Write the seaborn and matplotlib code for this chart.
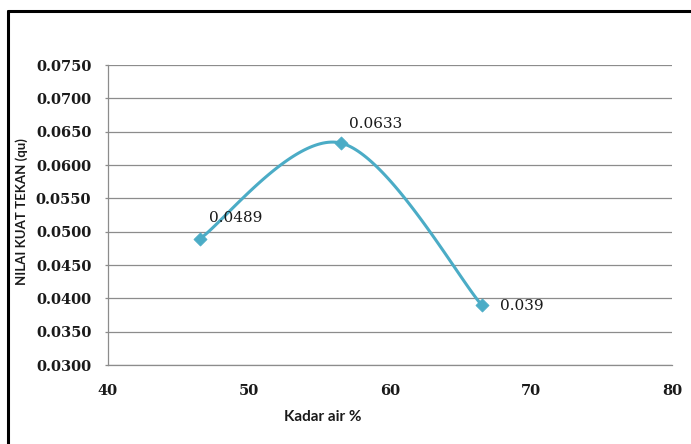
import numpy as np
import pandas as pd
import matplotlib
matplotlib.use("Agg")
import matplotlib.pyplot as plt
from matplotlib.lines import Line2D
import seaborn as sns

# Data
kadar_air = [46.5, 56.5, 66.5]
kuat_tekan = [0.0489, 0.0633, 0.039]
value_labels = ["0.0489", "0.0633", "0.039"]
y_ticks = [0.0300, 0.0350, 0.0400, 0.0450, 0.0500, 0.0550, 0.0600, 0.0650, 0.0700, 0.0750]
x_ticks = [40, 50, 60, 70, 80]

LINE_COLOR = "#4BACC6"
GRID_COLOR = "#8C8C8C"


def smooth_curve(xs, ys, n=60):
    """Cubic Bezier smoothing through the points (Catmull-Rom style tangents)."""
    pts = np.column_stack([xs, ys]).astype(float)
    out = []
    for i in range(len(pts) - 1):
        p_prev = pts[i - 1] if i > 0 else pts[i]
        p0, p1 = pts[i], pts[i + 1]
        p_next = pts[i + 2] if i + 2 < len(pts) else pts[i + 1]
        c1 = p0 + (p1 - p_prev) / 6.0
        c2 = p1 - (p_next - p0) / 6.0
        t = np.linspace(0, 1, n)[:, None]
        seg = ((1 - t) ** 3) * p0 + 3 * ((1 - t) ** 2) * t * c1 + 3 * (1 - t) * t ** 2 * c2 + t ** 3 * p1
        out.append(seg if i == 0 else seg[1:])
    return np.vstack(out)


sns.set_theme(style="white")
plt.rcParams["font.family"] = ["DejaVu Serif"]

fig = plt.figure(figsize=(6.91, 4.44), dpi=100)
fig.patch.set_facecolor("white")
ax = fig.add_axes([108 / 691, 1 - 365 / 444, (672 - 108) / 691, (365 - 65) / 444])

curve = smooth_curve(kadar_air, kuat_tekan)
curve_df = pd.DataFrame({"x": curve[:, 0], "y": curve[:, 1]})
pts_df = pd.DataFrame({"x": kadar_air, "y": kuat_tekan})

sns.lineplot(data=curve_df, x="x", y="y", ax=ax, color=LINE_COLOR, linewidth=2.2,
             sort=False, estimator=None, zorder=3)
sns.scatterplot(data=pts_df, x="x", y="y", ax=ax, marker="D", s=45, color=LINE_COLOR,
                edgecolor=LINE_COLOR, linewidth=0.5, zorder=4)

offsets = [(7, 15), (6, 14), (13, -1)]
for xv, yv, lab, (dx, dy) in zip(kadar_air, kuat_tekan, value_labels, offsets):
    ax.annotate(lab, (xv, yv), xytext=(dx, dy), textcoords="offset points",
                fontsize=11, family="DejaVu Serif", color="#1a1a1a",
                ha="left", va="center")

ax.set_xlim(40, 80)
ax.set_ylim(0.0300, 0.0750)
ax.set_xticks(x_ticks)
ax.set_yticks(y_ticks)
ax.set_xticklabels([str(v) for v in x_ticks])
ax.set_yticklabels([f"{v:.4f}" for v in y_ticks])
for lbl in ax.get_xticklabels() + ax.get_yticklabels():
    lbl.set_fontweight("bold")
    lbl.set_fontsize(10.5)
    lbl.set_family("DejaVu Serif")
    lbl.set_color("#1a1a1a")

ax.yaxis.grid(True, color=GRID_COLOR, linewidth=0.9)
ax.xaxis.grid(False)
ax.set_axisbelow(True)
for side in ["top", "right"]:
    ax.spines[side].set_visible(False)
for side in ["left", "bottom"]:
    ax.spines[side].set_color(GRID_COLOR)
    ax.spines[side].set_linewidth(0.9)

ax.tick_params(axis="y", which="major", left=True, length=2, width=0.9, color=GRID_COLOR, pad=10)
ax.tick_params(axis="x", which="major", bottom=False, length=0, pad=13.5)

ax.set_xlabel("")
ax.set_ylabel("")
fig.text(323 / 691, 1 - 417 / 444, "Kadar air %", ha="center", va="center",
         fontsize=11, fontweight="bold", family=["Lato", "DejaVu Sans"], color="#1a1a1a")
fig.text(22 / 691, 1 - 212 / 444, "NILAI KUAT TEKAN (qu)", ha="center", va="center",
         rotation=90, fontsize=9.5, fontweight="bold", family=["Lato", "DejaVu Sans"],
         color="#1a1a1a")

# Frame lines along the top and left edges of the figure
fig.add_artist(Line2D([8 / 691, 8 / 691], [0, 1 - 11 / 444], color="black", linewidth=2.2,
                      transform=fig.transFigure))
fig.add_artist(Line2D([8 / 691, 1], [1 - 11 / 444, 1 - 11 / 444], color="black", linewidth=2.2,
                      transform=fig.transFigure))

fig.savefig("out.png", dpi=100)
